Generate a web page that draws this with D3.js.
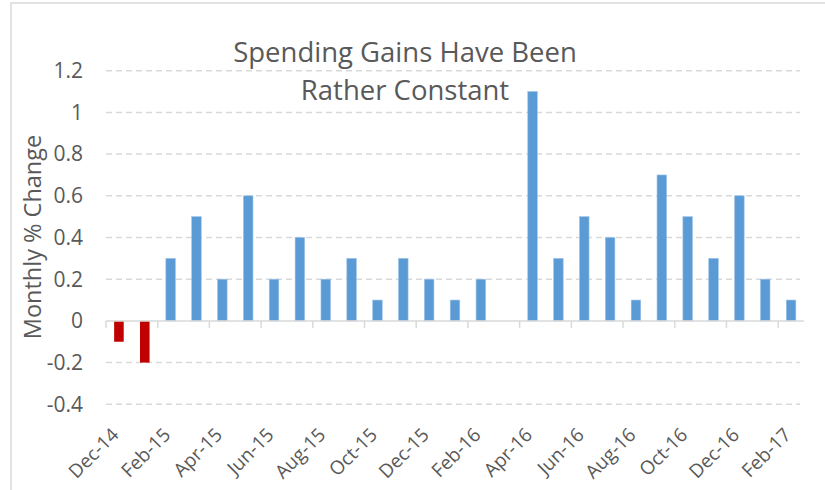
<!DOCTYPE html>
<html>
<head>
<meta charset="utf-8">
<script src="https://cdn.jsdelivr.net/npm/d3@7"></script>
<style>
  body { margin: 0; background: #fff; }
  text { font-family: "Open Sans", sans-serif; fill: #595959; }
</style>
</head>
<body>
<script>
const months = ["Dec-14","Jan-15","Feb-15","Mar-15","Apr-15","May-15","Jun-15","Jul-15","Aug-15","Sep-15","Oct-15","Nov-15",
                "Dec-15","Jan-16","Feb-16","Mar-16","Apr-16","May-16","Jun-16","Jul-16","Aug-16","Sep-16","Oct-16","Nov-16",
                "Dec-16","Jan-17","Feb-17"];
const values = [-0.1,-0.2,0.3,0.5,0.2,0.6,0.2,0.4,0.2,0.3,0.1,0.3,
                0.2,0.1,0.2,0,1.1,0.3,0.5,0.4,0.1,0.7,0.5,0.3,
                0.6,0.2,0.1];
const yTicks = [-0.4,-0.2,0,0.2,0.4,0.6,0.8,1,1.2];
const titleLines = ["Spending Gains Have Been", "Rather Constant"];

const w = 825,
      h = 490;

const svg = d3.select("body")
              .append("svg")
              .attr("width", w)
              .attr("height", h);

// chart frame
svg.append("rect")
   .attr("x", 11)
   .attr("y", 3)
   .attr("width", 830)
   .attr("height", 500)
   .attr("fill", "none")
   .attr("stroke", "#d9d9d9")
   .attr("stroke-width", 1.5);

const x = d3.scaleBand()
            .domain(months)
            .range([106, 804])
            .paddingInner(0.63)
            .paddingOuter(0.315);

const y = d3.scaleLinear()
            .domain([-0.4, 1.2])
            .range([404.3, 70.7]);

// gridlines
svg.append("g")
   .selectAll("line")
   .data(yTicks.filter(d => d !== 0))
   .enter()
   .append("line")
   .attr("x1", 106)
   .attr("x2", 800)
   .attr("y1", d => y(d))
   .attr("y2", d => y(d))
   .attr("stroke", "#d9d9d9")
   .attr("stroke-width", 1.5)
   .attr("stroke-dasharray", "6,4");

// y tick labels
svg.append("g")
   .selectAll("text")
   .data(yTicks)
   .enter()
   .append("text")
   .attr("x", 83)
   .attr("y", d => y(d))
   .attr("dy", "0.35em")
   .attr("text-anchor", "end")
   .style("font-size", "21px")
   .text(d => d);

// bars
svg.append("g")
   .selectAll("rect")
   .data(months)
   .enter()
   .append("rect")
   .attr("x", d => x(d))
   .attr("width", x.bandwidth())
   .attr("y", (d, i) => y(Math.max(0, values[i])))
   .attr("height", (d, i) => Math.abs(y(values[i]) - y(0)))
   .attr("fill", (d, i) => values[i] < 0 ? "#c00000" : "#5b9bd5")
   .attr("stroke", (d, i) => values[i] < 0 ? "none" : "#9dc3e6")
   .attr("stroke-width", 0.6);

// zero axis
const axisG = svg.append("g");
axisG.append("line")
     .attr("x1", 106)
     .attr("x2", 804)
     .attr("y1", y(0))
     .attr("y2", y(0))
     .attr("stroke", "#d9d9d9")
     .attr("stroke-width", 1.5);

const step = x.step();
axisG.selectAll(".tick")
     .data(months.filter((d, i) => i % 2 === 0))
     .enter()
     .append("line")
     .attr("class", "tick")
     .attr("x1", d => x(d) + x.bandwidth() / 2 - step / 2)
     .attr("x2", d => x(d) + x.bandwidth() / 2 - step / 2)
     .attr("y1", y(0))
     .attr("y2", y(0) + 7)
     .attr("stroke", "#d9d9d9")
     .attr("stroke-width", 1.5);

// x labels
svg.append("g")
   .selectAll("text")
   .data(months.filter((d, i) => i % 2 === 0))
   .enter()
   .append("text")
   .attr("transform", d => "translate(" + (x(d) + x.bandwidth() / 2 + 1) + ",436) rotate(-45)")
   .attr("text-anchor", "end")
   .style("font-size", "19px")
   .text(d => d);

// y axis title
svg.append("text")
   .attr("transform", "translate(33,237) rotate(-90)")
   .attr("text-anchor", "middle")
   .attr("dy", "0.35em")
   .style("font-size", "23.5px")
   .text("Monthly % Change");

// title
svg.append("g")
   .selectAll("text")
   .data(titleLines)
   .enter()
   .append("text")
   .attr("x", 405)
   .attr("y", (d, i) => 62 + i * 38)
   .attr("text-anchor", "middle")
   .style("font-size", "27.5px")
   .text(d => d);
</script>
</body>
</html>
